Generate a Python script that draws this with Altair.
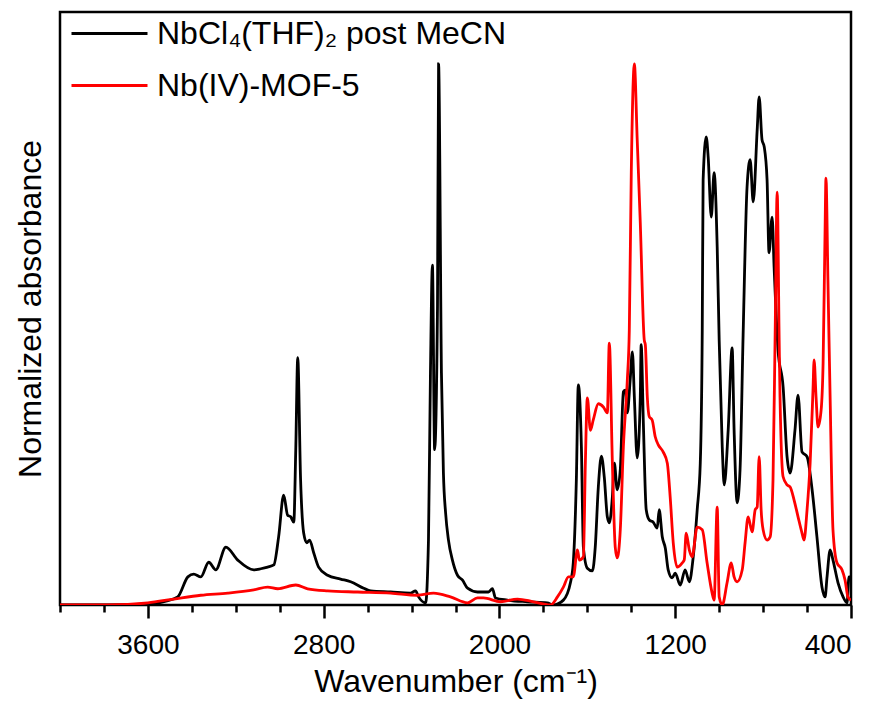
import altair as alt
import pandas as pd

SERIES = ["NbCl₄(THF)₂ post MeCN", "Nb(IV)-MOF-5"]
COLORS = ["#000000", "#ff0000"]

black_wn = [4000, 3782, 3586, 3518, 3464, 3418, 3391, 3359, 3323, 3291, 3245, 3191, 3118, 3086, 3055, 3027,
            3005, 2982, 2964, 2950, 2936, 2927, 2918, 2905, 2891, 2877, 2864, 2845, 2823, 2782, 2723, 2677,
            2618, 2586, 2495, 2405, 2382, 2368, 2336, 2323, 2314, 2305, 2295, 2282, 2277, 2264, 2255, 2245,
            2232, 2214, 2191, 2168, 2145, 2100, 2050, 2032, 2018, 1964, 1873, 1782, 1755, 1709, 1677, 1664,
            1650, 1641, 1627, 1618, 1600, 1577, 1564, 1550, 1536, 1523, 1509, 1500, 1486, 1477, 1464, 1450,
            1436, 1427, 1418, 1405, 1395, 1386, 1373, 1359, 1355, 1345, 1332, 1318, 1300, 1282, 1273, 1259,
            1245, 1232, 1214, 1200, 1177, 1155, 1136, 1118, 1100, 1086, 1077, 1073, 1059, 1050, 1036, 1023,
            1009, 1000, 986, 977, 959, 941, 932, 918, 905, 891, 873, 859, 845, 827, 818, 805, 795, 782, 773,
            759, 750, 732, 709, 691, 677, 655, 641, 623, 600, 577, 555, 532, 518, 509, 495, 482, 459, 436,
            418, 409, 400]
black_val = [0.0, 0.0, 0.002, 0.007, 0.015, 0.052, 0.057, 0.052, 0.079, 0.065, 0.107, 0.083, 0.065, 0.067,
             0.070, 0.074, 0.126, 0.203, 0.166, 0.163, 0.153, 0.287, 0.457, 0.231, 0.133, 0.115, 0.120, 0.096,
             0.070, 0.055, 0.048, 0.043, 0.031, 0.026, 0.024, 0.022, 0.026, 0.015, 0.004, 0.120, 0.429, 0.628,
             0.287, 0.551, 1.000, 0.429, 0.244, 0.170, 0.120, 0.083, 0.055, 0.046, 0.031, 0.024, 0.024, 0.030,
             0.013, 0.009, 0.006, 0.004, 0.000, 0.009, 0.041, 0.078, 0.231, 0.407, 0.292, 0.107, 0.068, 0.063,
             0.107, 0.218, 0.275, 0.237, 0.163, 0.152, 0.200, 0.262, 0.213, 0.250, 0.394, 0.397, 0.355, 0.416,
             0.468, 0.384, 0.272, 0.384, 0.481, 0.336, 0.176, 0.157, 0.153, 0.142, 0.176, 0.126, 0.105, 0.065,
             0.050, 0.059, 0.037, 0.065, 0.043, 0.089, 0.176, 0.262, 0.508, 0.786, 0.865, 0.828, 0.717, 0.799,
             0.662, 0.490, 0.292, 0.222, 0.323, 0.475, 0.323, 0.189, 0.250, 0.499, 0.773, 0.823, 0.745, 0.878,
             0.939, 0.860, 0.847, 0.786, 0.651, 0.717, 0.625, 0.471, 0.403, 0.274, 0.244, 0.323, 0.388, 0.283,
             0.274, 0.213, 0.126, 0.033, 0.015, 0.052, 0.102, 0.083, 0.041, 0.015, 0.004, 0.052, 0.052]

red_wn = [4000, 3782, 3600, 3482, 3359, 3236, 3118, 3055, 3009, 2927, 2873, 2782, 2645, 2495, 2373, 2300,
          2223, 2145, 2100, 2073, 1995, 1918, 1845, 1768, 1736, 1709, 1686, 1664, 1645, 1636, 1618, 1609,
          1600, 1586, 1573, 1550, 1527, 1509, 1500, 1486, 1473, 1464, 1450, 1436, 1418, 1409, 1400, 1386,
          1373, 1359, 1341, 1336, 1327, 1318, 1305, 1291, 1277, 1255, 1236, 1223, 1209, 1191, 1168, 1159,
          1150, 1136, 1123, 1100, 1077, 1055, 1032, 1023, 1009, 1000, 986, 964, 945, 932, 918, 895, 882,
          868, 850, 836, 827, 818, 809, 800, 782, 768, 755, 745, 736, 727, 723, 709, 691, 677, 659, 641,
          623, 614, 600, 586, 573, 568, 559, 550, 536, 527, 518, 514, 505, 500, 495, 482, 464, 441, 427,
          414, 400]
red_val = [0.0, 0.0, 0.004, 0.011, 0.018, 0.022, 0.028, 0.033, 0.030, 0.037, 0.030, 0.026, 0.024, 0.022,
           0.018, 0.022, 0.015, 0.004, 0.013, 0.013, 0.006, 0.011, 0.006, 0.0, 0.015, 0.033, 0.052, 0.052,
           0.102, 0.083, 0.089, 0.262, 0.383, 0.323, 0.342, 0.372, 0.366, 0.355, 0.484, 0.262, 0.107, 0.087,
           0.139, 0.292, 0.416, 0.508, 0.799, 1.000, 0.860, 0.706, 0.490, 0.481, 0.384, 0.348, 0.342, 0.311,
           0.296, 0.283, 0.262, 0.200, 0.115, 0.070, 0.078, 0.083, 0.133, 0.102, 0.089, 0.144, 0.139, 0.078,
           0.022, 0.009, 0.181, 0.015, 0.0, 0.041, 0.078, 0.052, 0.043, 0.065, 0.115, 0.163, 0.135, 0.176,
           0.181, 0.274, 0.176, 0.139, 0.120, 0.126, 0.231, 0.508, 0.763, 0.490, 0.384, 0.237, 0.222, 0.218,
           0.194, 0.163, 0.133, 0.120, 0.176, 0.262, 0.397, 0.453, 0.384, 0.329, 0.360, 0.447, 0.693, 0.789,
           0.601, 0.490, 0.384, 0.139, 0.078, 0.065, 0.046, 0.015, 0.009]

x_ticks = list(range(400, 4001, 200))

df = pd.concat([
    pd.DataFrame({"wn": black_wn, "val": black_val, "series": SERIES[0]}),
    pd.DataFrame({"wn": red_wn, "val": red_val, "series": SERIES[1]}),
], ignore_index=True)

FONT = "Liberation Sans"

chart = alt.Chart(df).mark_line(strokeWidth=2.8, clip=True, interpolate="monotone").encode(
    x=alt.X("wn:Q",
            scale=alt.Scale(domain=[4000, 400], nice=False, zero=False),
            axis=alt.Axis(values=x_ticks,
                          labelExpr="datum.value % 800 === 400 ? datum.label : ''",
                          format="d",
                          tickSize={"condition": {"test": "datum.value % 800 === 400", "value": 13}, "value": 7},
                          tickWidth=2.5, tickColor="black",
                          domain=False, grid=False,
                          labelFontSize=28, labelFont=FONT, labelColor="black", labelPadding=13,
                          title="Wavenumber (cm⁻¹)", titleFontSize=32, titleFont=FONT,
                          titleFontWeight="normal", titleColor="black", titlePadding=7)),
    y=alt.Y("val:Q",
            scale=alt.Scale(domain=[0, 1.096], nice=False, zero=False),
            axis=alt.Axis(labels=False, ticks=False, domain=False, grid=False,
                          title="Normalized absorbance", titleFontSize=32, titleFont=FONT,
                          titleFontWeight="normal", titleColor="black", titlePadding=13)),
    color=alt.Color("series:N",
                    scale=alt.Scale(domain=SERIES, range=COLORS),
                    sort=SERIES,
                    legend=alt.Legend(title=None, orient="none", legendX=24, legendY=-4,
                                      symbolType="M-1.6,0H1.6", symbolStrokeWidth=3, symbolSize=2256,
                                      labelFontSize=32, labelFont=FONT, labelColor="black",
                                      labelLimit=0, labelOffset=22, rowPadding=10)),
    order=alt.Order("wn:Q"),
).properties(
    width=791, height=593,
    autosize=alt.AutoSizeParams(type="none"),
    padding={"left": 52, "top": 4, "right": 24, "bottom": 97},
).configure_view(
    stroke="black", strokeWidth=2.5
)

chart.save("out.html", embed_options={"renderer": "svg", "actions": False})
